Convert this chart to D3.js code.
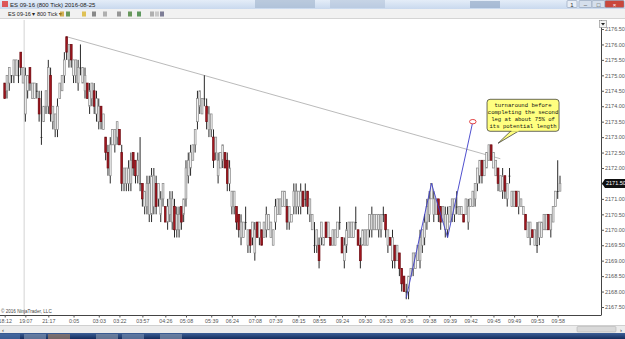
<!DOCTYPE html>
<html>
<head>
<meta charset="utf-8">
<script src="https://cdn.jsdelivr.net/npm/d3@7"></script>
<style>
body { margin: 0; background: #fff; overflow: hidden; }
svg { display: block; font-family: "Liberation Sans", Arial, sans-serif; }
</style>
</head>
<body>
<svg id="chart" width="625" height="339"></svg>
<script>
// time labels under the chart and the bar each one sits on
var timeLabels = ['18:12', '19:07', '21:17', '0:05', '03:03', '03:22', '03:57', '04:26', '05:08',
  '05:39', '06:24', '07:08', '07:39', '08:15', '08:55', '09:24', '09:30', '09:33', '09:36',
  '09:38', '09:39', '09:42', '09:45', '09:49', '09:53', '09:58'];
var timeTicks = [0, 9, 19, 30, 41, 50, 60, 70, 79, 90, 99, 109, 118, 128, 137, 147, 157, 166,
  175, 185, 194, 203, 213, 222, 232, 241];

var priceTicks = [2167.5, 2168, 2168.5, 2169, 2169.5, 2170, 2170.5, 2171, 2171.5, 2172,
  2172.5, 2173, 2173.5, 2174, 2174.5, 2175, 2175.5, 2176, 2176.5];

// ES 09-16, 800 tick bars
var highs = [
  2174.75, 2175, 2175.25, 2175, 2175.5, 2175.5, 2175.5, 2175.75, 2175.25, 2175.25,
  2175, 2175.25, 2174.75, 2174.75, 2174.75, 2174.5, 2174.5, 2174, 2174.5, 2175.5,
  2175.25, 2174, 2173.75, 2174.25, 2174.75, 2175, 2175.75, 2176.25, 2176, 2176,
  2175.5, 2175.5, 2175.5, 2176, 2175.25, 2175.25, 2174.75, 2174.75, 2174.75, 2174.75,
  2174.5, 2174.25, 2174, 2173.75, 2173, 2172.75, 2173, 2173.25, 2173.25, 2173.5,
  2173.25, 2172.75, 2172, 2172, 2172.25, 2172.5, 2172.5, 2172.25, 2172.5, 2173,
  2171.5, 2171.25, 2171.75, 2171.75, 2172, 2172, 2171.75, 2171.5, 2171.25, 2171.5,
  2170.75, 2171, 2171.25, 2171.25, 2171, 2170.75, 2170.75, 2170.75, 2171, 2172.25,
  2172.5, 2172.75, 2172.75, 2173.25, 2174.5, 2174.5, 2174.25, 2175, 2174.25, 2174,
  2173.75, 2173.25, 2173, 2172.5, 2172.5, 2172.75, 2172.5, 2172.5, 2172.25, 2171.25,
  2171.25, 2170.75, 2170.5, 2170.5, 2170.25, 2170.75, 2170, 2170, 2170.25, 2170.25,
  2170.25, 2170.25, 2170, 2170.25, 2170.75, 2170.5, 2170.25, 2170, 2171, 2171,
  2171, 2171.25, 2171.25, 2171, 2170.75, 2170.5, 2171.5, 2171.5, 2171.25, 2171.5,
  2171.25, 2171.5, 2171.25, 2171, 2170.5, 2170.25, 2170, 2169.75, 2170.25, 2169.75,
  2170.25, 2170.25, 2169.75, 2170, 2170, 2170.25, 2170.75, 2169.75, 2169.75, 2170.25,
  2170.25, 2170.25, 2170.25, 2170.75, 2170, 2169.75, 2170, 2170, 2170, 2170.5,
  2170.75, 2170.5, 2170.5, 2170.5, 2170.5, 2170.75, 2170.5, 2170, 2169.75, 2170,
  2169.5, 2169.5, 2169.25, 2168.75, 2168.5, 2168.25, 2168.5, 2168.75, 2169.25, 2169.25,
  2169.5, 2170, 2170, 2170.5, 2171, 2171.25, 2171.5, 2171.25, 2171, 2171,
  2170.75, 2170.75, 2170.75, 2170.75, 2170.75, 2171, 2171, 2171.25, 2170.75, 2170.75,
  2170.5, 2171, 2171, 2171, 2171.25, 2171.5, 2172, 2172.25, 2172.25, 2172.25,
  2172.5, 2172.75, 2172.75, 2172.5, 2172.25, 2172, 2171.75, 2172, 2171.75, 2171.5,
  2172, 2171.25, 2171.25, 2171.25, 2171.25, 2171, 2170.75, 2170.5, 2170.25, 2170.25,
  2170, 2170, 2170.25, 2170.25, 2170.25, 2170.5, 2170.5, 2170.5, 2170.5, 2170.75,
  2171.25, 2172.25, 2171.75
];
var lows = [
  2174.25, 2174.25, 2174.5, 2174.75, 2174.75, 2175, 2174.75, 2175, 2174.75, 2173.5,
  2174.25, 2174.5, 2174.25, 2174.25, 2174.25, 2173.5, 2172.75, 2173.5, 2173.75, 2173.75,
  2173.5, 2173.25, 2173, 2173, 2174.25, 2174.5, 2174.75, 2175.5, 2175.25, 2175.25,
  2174.75, 2174.75, 2174.5, 2175, 2174.75, 2174.25, 2174.25, 2173.75, 2174, 2173.75,
  2173.5, 2173.25, 2173.25, 2173.25, 2172.25, 2171.75, 2171.5, 2172.75, 2172.5, 2172.75,
  2172.75, 2171.25, 2171.25, 2171.25, 2171.25, 2171.25, 2171.75, 2171.5, 2171.5, 2171.25,
  2170.75, 2170.5, 2170.5, 2170.25, 2170.25, 2170.5, 2170.5, 2170.75, 2170.25, 2170.75,
  2170.25, 2170, 2170.25, 2170, 2169.75, 2169.75, 2169.75, 2170, 2170.25, 2170.75,
  2171.5, 2171.75, 2172.25, 2172.5, 2173.25, 2173.75, 2173.75, 2174, 2173.25, 2173,
  2173, 2172, 2172.25, 2171.5, 2172, 2172, 2172, 2171.25, 2171.25, 2170.5,
  2170.5, 2170, 2169.75, 2169.5, 2169.75, 2170, 2169.25, 2169.25, 2169.5, 2169,
  2169.75, 2169.5, 2169.5, 2169.75, 2169.75, 2170, 2169.75, 2169.5, 2170, 2170.5,
  2170.5, 2170.75, 2170.75, 2170, 2170, 2170.25, 2170.5, 2170.5, 2170.5, 2170.5,
  2170.75, 2170.75, 2170.5, 2170.25, 2170, 2169.25, 2169.25, 2168.75, 2169.5, 2169.5,
  2169.75, 2169.75, 2169.5, 2169.5, 2169.5, 2169.75, 2170, 2169.25, 2168.75, 2169.25,
  2169.75, 2169.75, 2169.75, 2170, 2169.5, 2168.75, 2169.5, 2169.5, 2169.5, 2169.75,
  2169.75, 2170, 2170, 2169.75, 2169.75, 2170.25, 2169.75, 2169.25, 2169.5, 2168.75,
  2168.75, 2169, 2168.5, 2168, 2168, 2167.75, 2167.75, 2168.5, 2168.5, 2168.75,
  2169, 2168.75, 2169.25, 2169.5, 2170, 2170.25, 2171, 2170.25, 2170.5, 2170.25,
  2170, 2170.25, 2169.75, 2169.75, 2170.25, 2170.25, 2170.25, 2170.5, 2170.5, 2170.5,
  2170.25, 2170.5, 2170, 2170.75, 2170.75, 2170.75, 2171.25, 2171.5, 2171.5, 2171.75,
  2172, 2172.25, 2172.25, 2172, 2171.75, 2171.25, 2171.25, 2171, 2171, 2170.75,
  2171.5, 2170.75, 2170.75, 2170.75, 2170.5, 2170.75, 2170.5, 2170, 2169.75, 2169.5,
  2169.75, 2169.5, 2169.25, 2169.5, 2169.75, 2170, 2170, 2170, 2169.75, 2170.25,
  2170.75, 2171, 2171.25
];
var opens = [
  2174.75, 2174.5, 2174.75, 2175, 2175, 2175, 2175, 2175.75, 2174.75, 2173.75,
  2174.5, 2175.25, 2174.25, 2174.25, 2174.5, 2174.25, 2173, 2173.5, 2174, 2174,
  2175, 2173.5, 2173.25, 2173.25, 2174.25, 2174.5, 2175, 2176.25, 2175.5, 2176,
  2175, 2175, 2174.75, 2175.25, 2174.75, 2174.5, 2174.75, 2174, 2174.25, 2174.5,
  2173.75, 2173.5, 2174, 2173.25, 2173, 2172.5, 2171.75, 2172.75, 2172.75, 2173,
  2173.25, 2172.5, 2171.5, 2171.5, 2171.5, 2171.5, 2172.5, 2172.25, 2171.75, 2171.5,
  2171.5, 2170.75, 2170.75, 2170.5, 2170.5, 2170.75, 2171.5, 2171, 2170.5, 2171,
  2170.75, 2170.25, 2170.5, 2170.25, 2170.75, 2170, 2170, 2170.75, 2170.5, 2171,
  2171.75, 2172, 2172.25, 2172.75, 2173.5, 2174, 2173.75, 2174.25, 2174, 2173.25,
  2173.25, 2173, 2172.5, 2171.75, 2172, 2172.25, 2172.5, 2172.25, 2171.5, 2170.75,
  2170.75, 2170.75, 2170.5, 2169.75, 2169.75, 2170.25, 2169.5, 2170, 2169.75, 2169.25,
  2170.25, 2169.75, 2170, 2169.75, 2170, 2170, 2169.75, 2169.5, 2170.25, 2170.5,
  2170.5, 2170.75, 2170.75, 2170.75, 2170.25, 2170.25, 2170.75, 2170.75, 2170.75, 2170.75,
  2171.25, 2171, 2171.25, 2170.5, 2170, 2169.5, 2169.5, 2169.5, 2169.75, 2169.5,
  2170.25, 2169.75, 2169.75, 2169.5, 2169.5, 2169.75, 2170.25, 2169.75, 2169, 2169.5,
  2169.75, 2169.75, 2169.75, 2170.25, 2170, 2169.5, 2169.5, 2169.5, 2169.5, 2170,
  2170, 2170, 2170, 2170, 2170, 2170.5, 2170.5, 2169.5, 2169.75, 2169,
  2169.5, 2169, 2169.25, 2168.75, 2168.5, 2168, 2168, 2168.5, 2168.75, 2168.75,
  2169, 2169, 2169.5, 2169.75, 2170.25, 2170.5, 2171, 2170.5, 2170.5, 2171,
  2170.75, 2170.25, 2170, 2170, 2170.25, 2170.5, 2170.5, 2170.75, 2170.5, 2170.5,
  2170.5, 2170.5, 2170.25, 2170.75, 2170.75, 2171, 2171.5, 2171.75, 2172.25, 2171.75,
  2172, 2172.25, 2172.75, 2172, 2171.75, 2172, 2171.25, 2171.25, 2171.75, 2171,
  2171.75, 2170.75, 2170.75, 2171.25, 2170.75, 2170.75, 2170.5, 2170.5, 2169.75, 2169.75,
  2170, 2169.5, 2169.5, 2169.75, 2169.75, 2170, 2170, 2170.5, 2170, 2170.25,
  2170.75, 2171.25, 2171.25
];
var closes = [
  2174.25, 2175, 2175.25, 2175, 2175.5, 2175.5, 2175, 2175.25, 2175.25, 2175,
  2175, 2174.75, 2174.75, 2174.75, 2174.5, 2173.75, 2173, 2174, 2174.5, 2175.25,
  2173.75, 2174, 2173.75, 2174, 2174.75, 2175, 2175.5, 2175.75, 2176, 2175.5,
  2175.5, 2175.5, 2175.25, 2175.25, 2175.25, 2175, 2174.25, 2174.5, 2174.75, 2174,
  2174.25, 2174, 2173.5, 2173.75, 2172.5, 2172, 2172.75, 2173.25, 2173.25, 2173.5,
  2172.75, 2171.5, 2172, 2172, 2172, 2172.25, 2172, 2171.75, 2172.25, 2171.5,
  2171, 2171.25, 2171.5, 2171.5, 2171.75, 2171.75, 2170.75, 2171.5, 2171, 2171.5,
  2170.25, 2170.75, 2171, 2171, 2170, 2170.5, 2170.5, 2170.25, 2171, 2172,
  2172.25, 2172.5, 2172.75, 2173.25, 2174.25, 2174.5, 2174.25, 2174.25, 2173.5, 2173.75,
  2173.75, 2172.25, 2173, 2172.25, 2172.5, 2172.75, 2172, 2171.5, 2172, 2171.25,
  2171.25, 2170.25, 2170, 2170.25, 2170.25, 2170.25, 2170, 2169.5, 2170.25, 2170,
  2169.75, 2170.25, 2169.5, 2170.25, 2170.5, 2170.5, 2170.25, 2170, 2170.75, 2171,
  2171, 2171.25, 2171.25, 2170.25, 2170.75, 2170.5, 2171.25, 2171.25, 2171.25, 2171.25,
  2170.75, 2171, 2170.75, 2171, 2170.5, 2169.5, 2170, 2169, 2170.25, 2169.75,
  2169.75, 2170.25, 2169.5, 2170, 2170, 2170.25, 2170.25, 2169.25, 2169.5, 2170,
  2170.25, 2170.25, 2170.25, 2170.25, 2169.5, 2169, 2170, 2170, 2170, 2170.5,
  2170.5, 2170.5, 2170.5, 2170.5, 2170.5, 2170.5, 2170, 2170, 2169.5, 2169.75,
  2169, 2169.5, 2168.75, 2168.25, 2168, 2168, 2168.5, 2168.75, 2169.25, 2169.25,
  2169.5, 2169.75, 2170, 2170.25, 2170.75, 2171, 2171.5, 2171, 2171, 2170.5,
  2170.25, 2170.75, 2170.5, 2170.5, 2170.75, 2171, 2171, 2170.75, 2170.75, 2170.75,
  2170.25, 2171, 2170.75, 2171, 2171.25, 2171.5, 2172, 2172.25, 2171.75, 2172.25,
  2172.5, 2172.75, 2172.25, 2172.5, 2172.25, 2171.5, 2171.75, 2171.75, 2171.25, 2171.5,
  2171.75, 2171.25, 2171.25, 2170.75, 2171.25, 2171, 2170.75, 2170, 2170.25, 2170.25,
  2169.75, 2170, 2169.5, 2170.25, 2170.25, 2170.5, 2170.5, 2170, 2170.5, 2170.75,
  2171.25, 2171.25, 2171.5
];

// drawing objects on the chart
var trendLine = [{ bar: 27, price: 2176.25 }, { bar: 216, price: 2172.3 }];
var legLine = [
  { bar: 175, price: 2167.8 },
  { bar: 186, price: 2171.5 },
  { bar: 193, price: 2169.75 },
  { bar: 204, price: 2173.5 }
];
var noteTip = { bar: 215, price: 2172.8 };
var noteLines = ['turnaround before', 'completing the second', 'leg at about 75% of', 'its potential length'];
var lastPrice = 2171.5;

var W = 625, H = 339;
var plotRight = 601, plotBottom = 315;

var svg = d3.select('#chart');

var x = d3.scalePoint()
  .domain(d3.range(highs.length))
  .range([4.7, 560]);
var y = d3.scaleLinear()
  .domain([2167.5, 2176.5])
  .range([307, 29]);

var defs = svg.append('defs');
var tg = defs.append('linearGradient').attr('id', 'titleGrad').attr('x1', 0).attr('x2', 0).attr('y1', 0).attr('y2', 1);
tg.append('stop').attr('offset', 0).attr('stop-color', '#e4edf8');
tg.append('stop').attr('offset', 1).attr('stop-color', '#c9d9ee');
var bg = defs.append('linearGradient').attr('id', 'taskGrad').attr('x1', 0).attr('x2', 0).attr('y1', 0).attr('y2', 1);
bg.append('stop').attr('offset', 0).attr('stop-color', '#3d5f97');
bg.append('stop').attr('offset', 1).attr('stop-color', '#142c5c');

// window chrome: title bar, toolbar
svg.append('rect').attr('width', W).attr('height', 9).attr('fill', 'url(#titleGrad)');
svg.append('rect').attr('x', 255).attr('y', 0).attr('width', 60).attr('height', 8).attr('fill', '#9fb3cc').attr('opacity', 0.6);
svg.append('rect').attr('x', 330).attr('y', 0).attr('width', 55).attr('height', 8).attr('fill', '#a9bcd3').attr('opacity', 0.5);
svg.append('rect').attr('x', 470).attr('y', 1).attr('width', 30).attr('height', 7).attr('fill', '#8aa2c2').attr('opacity', 0.6);
svg.append('rect').attr('x', 2).attr('y', 1).attr('width', 6).attr('height', 6).attr('fill', '#d33').attr('opacity', 0.8);
svg.append('text').attr('x', 10).attr('y', 6.5).attr('font-size', 6).attr('fill', '#222')
  .text('ES 09-16 (800 Tick)  2016-08-25');

var btns = [
  { x: 567, w: 10, fill: '#e8eef6', t: '1' },
  { x: 579, w: 13, fill: '#d5dfec', t: '\u2013' },
  { x: 592, w: 13, fill: '#d5dfec', t: '\u25a1' },
  { x: 605, w: 19, fill: '#c9473c', t: '\u00d7' }
];
svg.selectAll('.winbtn').data(btns).enter().append('rect')
  .attr('class', 'winbtn')
  .attr('x', function(d) { return d.x; }).attr('y', 0.5)
  .attr('width', function(d) { return d.w; }).attr('height', 7)
  .attr('rx', 1).attr('fill', function(d) { return d.fill; })
  .attr('stroke', '#7d8fa8').attr('stroke-width', 0.5);
svg.selectAll('.wintxt').data(btns).enter().append('text')
  .attr('class', 'wintxt')
  .attr('x', function(d) { return d.x + d.w / 2; }).attr('y', 6.5)
  .attr('text-anchor', 'middle').attr('font-size', 6)
  .attr('fill', function(d, i) { return i === 3 ? '#fff' : '#333'; })
  .text(function(d) { return d.t; });

svg.append('rect').attr('y', 9).attr('width', W).attr('height', 10).attr('fill', '#f1f1f1');
svg.append('line').attr('x1', 0).attr('x2', W).attr('y1', 18.5).attr('y2', 18.5).attr('stroke', '#d4d4d4');
svg.append('text').attr('x', 8).attr('y', 16).attr('font-size', 5.5).attr('fill', '#222')
  .text('ES 09-16 \u25be   800 Tick \u25be');
var icons = [60, 66, 82, 92, 103, 117, 128, 137, 150, 155, 160];
var iconCols = ['#c99a1c', '#3a7a2a', '#d8b020', '#666', '#999', '#777', '#3a7a2a', '#2c7a2c', '#999', '#bbb', '#557'];
svg.selectAll('.icon').data(icons).enter().append('rect')
  .attr('class', 'icon')
  .attr('x', function(d) { return d; }).attr('y', 11.5)
  .attr('width', 4).attr('height', 5)
  .attr('fill', function(d, i) { return iconCols[i]; })
  .attr('opacity', 0.75);

// chart area
svg.append('rect').attr('y', 19).attr('width', W).attr('height', 306).attr('fill', '#fff');

// session break
var step = x.step();
svg.append('line')
  .attr('x1', x(8) + step / 2).attr('x2', x(8) + step / 2)
  .attr('y1', 20).attr('y2', plotBottom)
  .attr('stroke', '#e2e2e2').attr('stroke-width', 1.5);

// trend line across the two highs
svg.append('line')
  .attr('x1', x(trendLine[0].bar)).attr('y1', y(trendLine[0].price))
  .attr('x2', x(trendLine[1].bar)).attr('y2', y(trendLine[1].price))
  .attr('stroke', '#a8a8a8').attr('stroke-width', 0.8);

// bars
var bars = d3.range(highs.length).map(function(i) {
  return { i: i, o: opens[i], h: highs[i], l: lows[i], c: closes[i] };
});

svg.append('g').selectAll('line')
  .data(bars).enter().append('line')
  .attr('x1', function(d) { return x(d.i); })
  .attr('x2', function(d) { return x(d.i); })
  .attr('y1', function(d) { return y(d.h); })
  .attr('y2', function(d) { return y(d.l); })
  .attr('stroke', '#111').attr('stroke-width', 0.9);

svg.append('g').selectAll('rect')
  .data(bars).enter().append('rect')
  .attr('x', function(d) { return x(d.i) - 0.9; })
  .attr('width', 1.8)
  .attr('y', function(d) { return y(Math.max(d.o, d.c)); })
  .attr('height', function(d) { return Math.max(0.8, Math.abs(y(d.o) - y(d.c))); })
  .attr('fill', function(d) {
    if (d.c > d.o) return '#f2f2f2';
    if (d.c < d.o) return '#a3161f';
    return '#222';
  })
  .attr('stroke', function(d) {
    if (d.c > d.o) return '#8a8a8a';
    if (d.c < d.o) return '#6e0c12';
    return 'none';
  })
  .attr('stroke-width', 0.7);

// leg projection
svg.append('path')
  .datum(legLine)
  .attr('d', d3.line()
    .x(function(d) { return x(d.bar); })
    .y(function(d) { return y(d.price); }))
  .attr('fill', 'none').attr('stroke', '#3c3cc8').attr('stroke-width', 0.9);
var legEnd = legLine[legLine.length - 1];
svg.append('ellipse')
  .attr('cx', x(legEnd.bar)).attr('cy', y(legEnd.price))
  .attr('rx', 3.3).attr('ry', 2.2)
  .attr('fill', '#fff').attr('stroke', '#e03030').attr('stroke-width', 0.9);

// note
var tipX = x(noteTip.bar), tipY = y(noteTip.price);
var boxX = tipX - 11, boxY = tipY - 44, boxW = 72, boxH = 32;
svg.append('path')
  .attr('d', 'M' + (boxX + 24) + ',' + (boxY + boxH - 0.5) + 'L' + tipX + ',' + tipY + 'L' + (boxX + 32) + ',' + (boxY + boxH - 0.5))
  .attr('fill', '#ffff80').attr('stroke', '#2a2a2a').attr('stroke-width', 0.7);
svg.append('rect')
  .attr('x', boxX).attr('y', boxY).attr('width', boxW).attr('height', boxH)
  .attr('rx', 3).attr('fill', '#ffff80').attr('stroke', '#2a2a2a').attr('stroke-width', 0.7);
svg.append('rect')
  .attr('x', boxX + 24.4).attr('y', boxY + boxH - 1.2).attr('width', 7.2).attr('height', 1.6)
  .attr('fill', '#ffff80');
svg.selectAll('.note').data(noteLines).enter().append('text')
  .attr('class', 'note')
  .attr('x', boxX + boxW / 2)
  .attr('y', function(d, i) { return boxY + 8 + i * 7; })
  .attr('text-anchor', 'middle')
  .attr('font-family', '"Liberation Mono", "DejaVu Sans Mono", monospace')
  .attr('font-size', 5.6).attr('fill', '#111')
  .text(function(d) { return d; });

// price axis
var yAxis = d3.axisRight(y)
  .tickValues(priceTicks)
  .tickSize(3)
  .tickFormat(d3.format('.2f'));
var gy = svg.append('g')
  .attr('transform', 'translate(' + plotRight + ',0)')
  .call(yAxis);
gy.select('.domain').attr('d', 'M0.5,20V' + plotBottom).attr('stroke', '#444');
gy.selectAll('.tick line').attr('stroke', '#555');
gy.selectAll('.tick text').attr('x', 4).attr('font-size', 5.5).attr('fill', '#555')
  .attr('font-family', '"Liberation Sans", Arial, sans-serif');

// last price marker
svg.append('path')
  .attr('d', 'M' + (plotRight + 1) + ',' + y(lastPrice) + 'l3,-4.5h21v9h-21z')
  .attr('fill', '#111');
svg.append('text')
  .attr('x', plotRight + 5).attr('y', y(lastPrice) + 2)
  .attr('font-size', 5.5).attr('fill', '#fff')
  .text(d3.format('.2f')(lastPrice));

// drop-down button at the top of the axis
svg.append('rect').attr('x', 599.5).attr('y', 20.5).attr('width', 7).attr('height', 7)
  .attr('fill', '#f4f4f4').attr('stroke', '#888').attr('stroke-width', 0.6);
svg.append('path').attr('d', 'M601,23h4l-2,2.5z').attr('fill', '#222');

// time axis
var xAxis = d3.axisBottom(x)
  .tickValues(timeTicks)
  .tickSize(2.5)
  .tickFormat(function(d, i) { return timeLabels[i]; });
var gx = svg.append('g')
  .attr('transform', 'translate(0,' + plotBottom + ')')
  .call(xAxis);
gx.select('.domain').attr('d', 'M0,0.5H' + (plotRight + 0.5)).attr('stroke', '#444');
gx.selectAll('.tick line').attr('stroke', '#555');
gx.selectAll('.tick text').attr('y', 4).attr('font-size', 5.3).attr('fill', '#555')
  .attr('font-family', '"Liberation Sans", Arial, sans-serif');

svg.append('text').attr('x', 1).attr('y', 312.5).attr('font-size', 4.6).attr('fill', '#444')
  .text('\u00a9 2016 NinjaTrader, LLC');

// scroll bar and task bar
svg.append('rect').attr('y', 325).attr('width', W).attr('height', 8).attr('fill', '#ececec');
svg.append('line').attr('x1', 0).attr('x2', W).attr('y1', 325.5).attr('y2', 325.5).attr('stroke', '#d0d0d0');
svg.append('text').attr('x', 2).attr('y', 331.5).attr('font-size', 6).attr('fill', '#333').text('\u2039');
svg.append('rect').attr('x', 577).attr('y', 326.5).attr('width', 39).attr('height', 5.5)
  .attr('rx', 1).attr('fill', '#d9d9d9').attr('stroke', '#aaa').attr('stroke-width', 0.5);
svg.append('text').attr('x', 620).attr('y', 331.5).attr('font-size', 6).attr('fill', '#333').text('\u203a');
svg.append('rect').attr('y', 333).attr('width', W).attr('height', 6).attr('fill', 'url(#taskGrad)');
var taskItems = [{ x: 0, w: 20, c: '#4a6fa8' }, { x: 24, w: 22, c: '#7b8fae' }, { x: 48, w: 22, c: '#9a7e6a' },
  { x: 96, w: 22, c: '#8090a8' }, { x: 122, w: 22, c: '#6f87ad' }, { x: 160, w: 22, c: '#7e90ad' }];
svg.selectAll('.task').data(taskItems).enter().append('rect')
  .attr('class', 'task')
  .attr('x', function(d) { return d.x; }).attr('y', 334)
  .attr('width', function(d) { return d.w; }).attr('height', 5)
  .attr('fill', function(d) { return d.c; }).attr('opacity', 0.7);
</script>
</body>
</html>
